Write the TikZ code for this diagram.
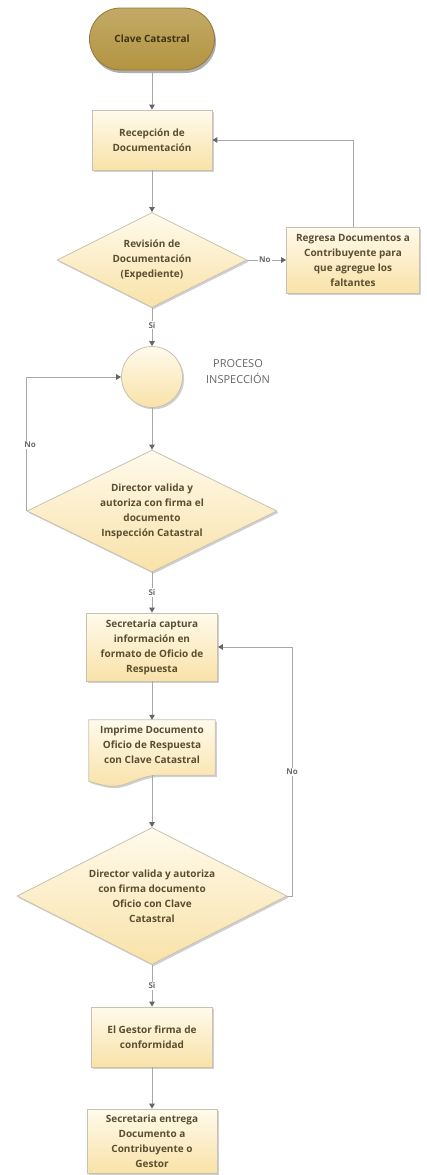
\documentclass[tikz,border=0pt]{standalone}
\usepackage{fontspec}
\setmainfont{Open Sans}
\usetikzlibrary{arrows.meta,shapes.geometric,shadows,calc}
\definecolor{boxtop}{HTML}{FFFAEC}
\definecolor{boxbot}{HTML}{F9E2A8}
\definecolor{boxline}{HTML}{C8C2B2}
\definecolor{linec}{HTML}{A8A8A8}
\definecolor{headc}{HTML}{666666}
\definecolor{termfill}{HTML}{B39441}
\definecolor{termline}{HTML}{957832}
\definecolor{txtc}{HTML}{5A4E30}
\definecolor{termtxt}{HTML}{3E3312}
\definecolor{lblc}{HTML}{6A6A6A}
\tikzset{
  shade/.style={drop shadow={shadow xshift=1.6pt,shadow yshift=-1.8pt,fill=black!30,opacity=0.6}},
  txt/.style={font=\fontsize{10}{15}\selectfont\bfseries,text=txtc,align=center,inner sep=0pt},
  procbox/.style={rectangle,draw=boxline,line width=0.8pt,top color=boxtop,bottom color=boxbot,shade,txt},
  decshape/.style={diamond,draw=boxline,line width=0.8pt,top color=boxtop,bottom color=boxbot,shade,inner sep=0pt},
  conn/.style={draw=linec,line width=1pt,-{Triangle[length=5pt,width=5.5pt,color=headc]}},
  lbl/.style={font=\fontsize{8}{10}\selectfont\bfseries,text=lblc,inner sep=1pt,fill=white}
}
\begin{document}
\begin{tikzpicture}[x=1pt,y=-1pt]
\useasboundingbox[fill=white] (0,0) rectangle (426,1175);
% nodes
\node[rectangle,rounded corners=31pt,draw=termline,line width=0.8pt,top color=termfill!80!white,bottom color=termfill,
      drop shadow={shadow xshift=1.5pt,shadow yshift=-3pt,fill=black!45,opacity=0.7},
      minimum width=125pt,minimum height=62pt,font=\fontsize{10}{15}\selectfont\bfseries,text=termtxt] (term) at (152,39) {Clave Catastral};
\node[procbox,minimum width=120pt,minimum height=60pt] (rec) at (152,140) {Recepción de\\Documentación};
\node[decshape,minimum width=190pt,minimum height=95pt] (rev) at (152,260) {};
\node[txt] (revt) at (152,260) {Revisión de\\Documentación\\(Expediente)};
\node[procbox,minimum width=133pt,minimum height=66pt] (ret) at (353,260) {Regresa Documentos a\\Contribuyente para\\que agregue los\\faltantes};
\node[circle,draw=boxline,line width=0.8pt,top color=boxtop,bottom color=boxbot,shade,minimum size=61pt,inner sep=0pt] (circ) at (152,377) {};
\node[font=\fontsize{11}{16}\selectfont,text=black!60,align=center,inner sep=0pt] (proc) at (238,372) {PROCESO\\INSPECCIÓN};
\node[decshape,minimum width=250pt,minimum height=122pt] (dir1) at (152,511) {};
\node[txt] (dir1t) at (152,511) {Director valida y\\autoriza con firma el\\documento\\Inspección Catastral};
\node[procbox,minimum width=131pt,minimum height=68pt] (sec) at (152,647) {Secretaria captura\\información en\\formato de Oficio de\\Respuesta};
\node[rectangle,minimum width=126pt,minimum height=55pt,inner sep=0pt] (doc) at (152,747.5) {};
\path[draw=boxline,line width=0.8pt,top color=boxtop,bottom color=boxbot,shade]
  (doc.north west) -- (doc.north east) -- (doc.south east) -- ($(doc.south east)+(-56,0)$)
  .. controls ($(doc.south east)+(-76,0)$) and ($(doc.south east)+(-90,13)$) .. ($(doc.south east)+(-106,11)$)
  .. controls ($(doc.south east)+(-114,10)$) and ($(doc.south east)+(-120,8)$) .. ($(doc.south west)+(0,6)$)
  -- cycle;
\node[txt] (doct) at (152,745) {Imprime Documento\\Oficio de Respuesta\\con Clave Catastral};
\node[decshape,minimum width=270pt,minimum height=137pt] (dir2) at (152,896) {};
\node[txt] (dir2t) at (152,896) {Director valida y autoriza\\con firma documento\\Oficio con Clave\\Catastral};
\node[procbox,minimum width=121pt,minimum height=60pt] (ges) at (152,1037) {El Gestor firma de\\conformidad};
\node[procbox,minimum width=130pt,minimum height=64pt] (ent) at (152,1141) {Secretaria entrega\\Documento a\\Contribuyente o\\Gestor};
% connectors
\draw[conn] (term.south) -- (rec.north);
\draw[conn] (rec.south) -- (rev.north);
\draw[conn] (rev.east) -- node[lbl,pos=0.45]{No} (ret.west);
\draw[conn] (ret.north) |- (rec.east);
\draw[conn] (rev.south) -- node[lbl,pos=0.45]{Si} (circ.north);
\draw[conn] (circ.south) -- (dir1.north);
\draw[conn] (dir1.west) -- ++(0,-68) coordinate (c1) |- (circ.west);
\node[lbl] (no1) at (30,445) {No};
\draw[conn] (dir1.south) -- node[lbl,pos=0.5]{Si} (sec.north);
\draw[conn] (sec.south) -- (doc.north);
\draw[conn] (doc.south) -- (dir2.north);
\draw[conn] (dir2.east) -- ++(5,0) coordinate (c2) |- (sec.east);
\node[lbl] (no2) at (292,772) {No};
\draw[conn] (dir2.south) -- node[lbl,pos=0.5]{Si} (ges.north);
\draw[conn] (ges.south) -- (ent.north);
\end{tikzpicture}
\end{document}
